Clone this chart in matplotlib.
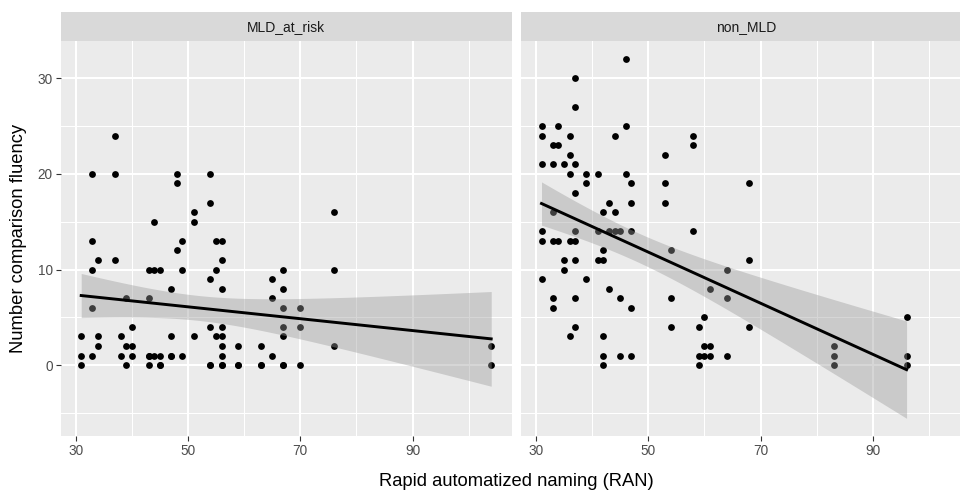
import numpy as np
import matplotlib
matplotlib.use("Agg")
import matplotlib.pyplot as plt

plt.rcParams['font.family'] = ['Liberation Sans', 'DejaVu Sans']

# data (RAN seconds, comparison fluency score)
panels = ["MLD_at_risk", "non_MLD"]

mld_x = [33, 37, 48, 54, 37, 48, 54, 51, 44, 51, 76,
         33, 49, 55, 56, 48, 34, 37, 56,
         33, 43, 44, 45, 49, 55, 67, 76,
         54, 65, 47, 56, 67, 39, 43, 65, 33, 67, 70,
         40, 54, 56, 67, 70,
         31, 34, 38, 47, 51, 55, 56, 67,
         34, 39, 40, 56, 59, 63, 76, 104,
         31, 33, 38, 40, 43, 44, 45, 47, 49, 56, 65,
         31, 39, 43, 45, 54, 56, 59, 63, 67, 70, 104,
         # overplotted repeats in the dense low cluster (needed to match the fitted line)
         54, 56, 59, 63, 67, 45, 43, 47]
mld_y = [20, 20, 20, 20, 24, 19, 17, 16, 15, 15, 16,
         13, 13, 13, 13, 12, 11, 11, 11,
         10, 10, 10, 10, 10, 10, 10, 10,
         9, 9, 8, 8, 8, 7, 7, 7, 6, 6, 6,
         4, 4, 4, 4, 4,
         3, 3, 3, 3, 3, 3, 3, 3,
         2, 2, 2, 2, 2, 2, 2, 2,
         1, 1, 1, 1, 1, 1, 1, 1, 1, 1, 1,
         0, 0, 0, 0, 0, 0, 0, 0, 0, 0, 0,
         0, 0, 0, 0, 0, 0, 1, 1]

non_x = [46, 37, 37, 31, 34, 46, 31, 36, 44, 58, 33, 34, 58, 36, 53,
         31, 33, 35, 37, 36, 39, 41, 46, 39, 47, 53, 68, 37,
         43, 47, 53, 33, 42, 44,
         31, 37, 41, 43, 44, 45, 47, 58,
         31, 33, 34, 36, 37, 42, 54,
         35, 37, 41, 42, 68, 35, 64, 31, 39, 43, 61,
         33, 37, 45, 54, 64, 33, 47, 60, 96,
         37, 54, 59, 68, 36, 42, 60, 61, 83,
         42, 45, 47, 59, 60, 61, 64, 83, 96,
         42, 59, 83, 96]
non_y = [32, 30, 27, 25, 25, 25, 24, 24, 24, 24, 23, 23, 23, 22, 22,
         21, 21, 21, 21, 20, 20, 20, 20, 19, 19, 19, 19, 18,
         17, 17, 17, 16, 16, 16,
         14, 14, 14, 14, 14, 14, 14, 14,
         13, 13, 13, 13, 13, 12, 12,
         11, 11, 11, 11, 11, 10, 10, 9, 9, 8, 8,
         7, 7, 7, 7, 7, 6, 6, 5, 5,
         4, 4, 4, 4, 3, 3, 2, 2, 2,
         1, 1, 1, 1, 1, 1, 1, 1, 1,
         0, 0, 0, 0]

xs_all = [mld_x, non_x]
ys_all = [mld_y, non_y]


def lm_band(x, y, n_out=80):
    x = np.asarray(x, float)
    y = np.asarray(y, float)
    n = len(x)
    b, a = np.polyfit(x, y, 1)
    res = y - (a + b * x)
    s = np.sqrt(np.sum(res ** 2) / (n - 2))
    xm = x.mean()
    sxx = np.sum((x - xm) ** 2)
    grid = np.linspace(x.min(), x.max(), n_out)
    fit = a + b * grid
    df = n - 2
    z = 1.959964
    t = z + (z ** 3 + z) / (4 * df) + (5 * z ** 5 + 16 * z ** 3 + 3 * z) / (96 * df ** 2)
    se = s * np.sqrt(1 / n + (grid - xm) ** 2 / sxx)
    return grid, fit, fit - t * se, fit + t * se


fits = [lm_band(x, y) for x, y in zip(xs_all, ys_all)]

# shared scales with ggplot's 5% expansion
xmin = min(min(x) for x in xs_all)
xmax = max(max(x) for x in xs_all)
ymin = min(min(min(y) for y in ys_all), min(f[2].min() for f in fits))
ymax = max(max(max(y) for y in ys_all), max(f[3].max() for f in fits))
xpad = 0.05 * (xmax - xmin)
ypad = 0.05 * (ymax - ymin)

W, H = 960, 492
fig = plt.figure(figsize=(W / 100, H / 100), dpi=100)

panel_left = [60.7, 521.0]
panel_w = 451.0
panel_top, panel_bot = 41.1, 436.3
strip_h = 29.0

for i, name in enumerate(panels):
    ax = fig.add_axes([panel_left[i] / W, 1 - panel_bot / H, panel_w / W,
                       (panel_bot - panel_top) / H])
    ax.set_facecolor("#EBEBEB")
    for sp in ax.spines.values():
        sp.set_visible(False)
    ax.set_xlim(xmin - xpad, xmax + xpad)
    ax.set_ylim(ymin - ypad, ymax + ypad)
    ax.set_xticks([30, 50, 70, 90])
    ax.set_xticks([40, 60, 80, 100], minor=True)
    ax.set_yticks([0, 10, 20, 30])
    ax.set_yticks([-5, 5, 15, 25], minor=True)
    ax.grid(which="major", color="white", linewidth=1.45)
    ax.grid(which="minor", color="white", linewidth=0.75)
    ax.set_axisbelow(True)
    ax.tick_params(which="major", length=3.3, width=0.8, color="#333333",
                   labelsize=9.8, labelcolor="#4D4D4D", pad=2.5)
    ax.tick_params(which="minor", length=0)
    if i > 0:
        ax.tick_params(axis="y", which="both", left=False, labelleft=False)

    ax.scatter(xs_all[i], ys_all[i], s=24, color="black", linewidths=0, zorder=2)
    gx, fit, lo, hi = fits[i]
    ax.fill_between(gx, lo, hi, color="#999999", alpha=0.4, linewidth=0, zorder=3)
    ax.plot(gx, fit, color="black", linewidth=2.1, zorder=4)

    sax = fig.add_axes([panel_left[i] / W, 1 - panel_top / H, panel_w / W, strip_h / H])
    sax.set_facecolor("#D9D9D9")
    sax.set_xticks([])
    sax.set_yticks([])
    for sp in sax.spines.values():
        sp.set_visible(False)
    sax.text(0.5, 0.5, name, transform=sax.transAxes, ha="center", va="center",
             fontsize=10, color="#1A1A1A")

fig.text(516 / W, 1 - 482 / H, "Rapid automatized naming (RAN)", ha="center",
         va="center", fontsize=13.2, color="black")
fig.text(19 / W, 1 - 238.7 / H, "Number comparison fluency", ha="center",
         va="center", rotation=90, fontsize=13.2, color="black")

fig.savefig("out.png", dpi=100, facecolor="white")
